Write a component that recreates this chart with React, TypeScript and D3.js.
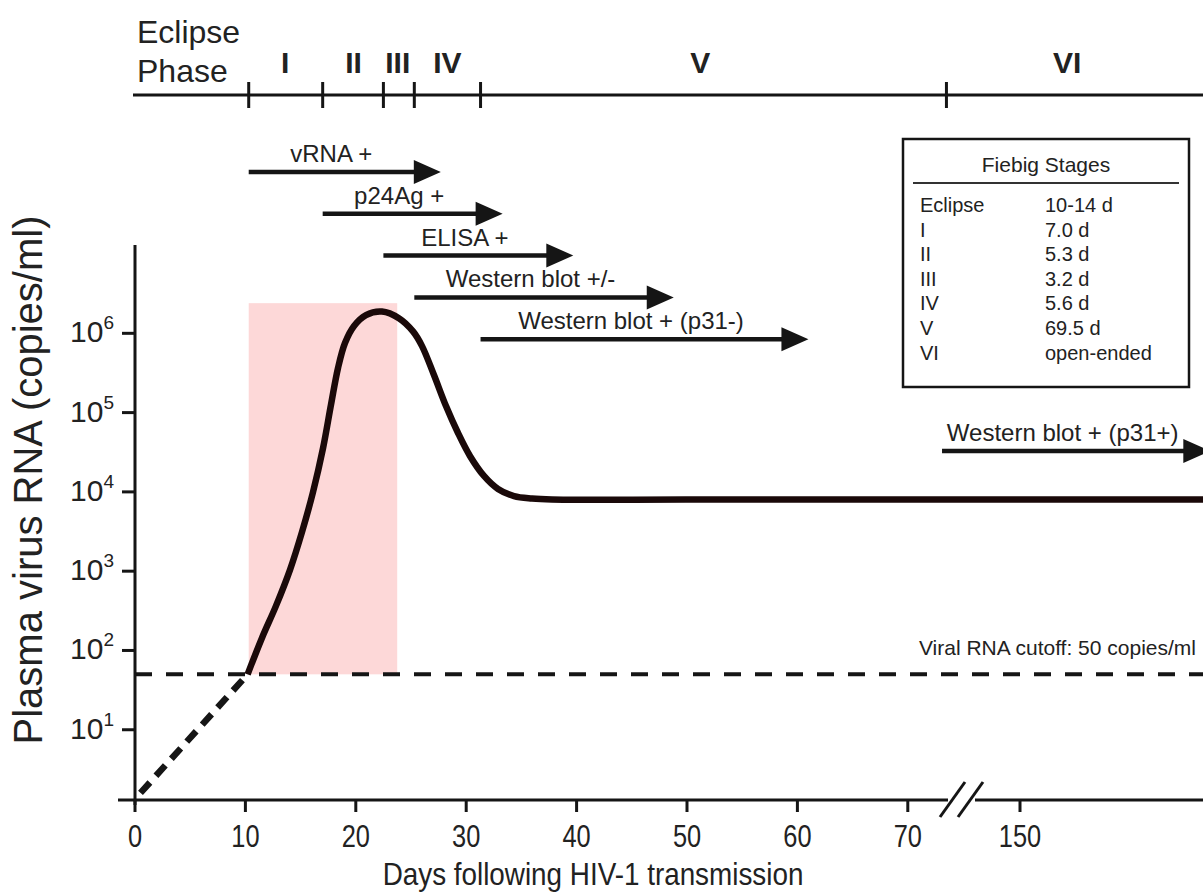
import React from "react";
import * as d3 from "d3";

// Fiebig stages (day each stage starts) and where the roman numeral sits
const stageNames = ["I", "II", "III", "IV", "V", "VI"];
const stageStartDays = [10.3, 17.0, 22.5, 25.3, 31.3, 73.5];
const stageLabelDays = [13.6, 19.8, 23.8, 28.3, 51.2, 154.3];

// diagnostic assays turning positive
const assayNames = ["vRNA +", "p24Ag +", "ELISA +", "Western blot +/-", "Western blot + (p31-)", "Western blot + (p31+)"];
const assayStartDays = [10.3, 17.0, 22.5, 25.3, 31.3, 73.1];
const assayEndDays = [27.7, 33.3, 39.7, 48.8, 61.0, 167.3];

// plasma viral load curve
const loadDays = [10.2, 11.5, 12.77, 14.04, 15.13, 16.12, 17.03, 17.75, 18.39, 19.02, 19.84, 20.92, 22.37, 23.9, 25.2, 26.0, 27.08, 28.17, 29.26, 30.34, 31.61, 32.88, 34.33, 35.96, 37.77, 50, 74, 150, 170];
const loadCopies = [50, 144, 365, 1040, 3130, 9900, 35500, 1.25e5, 3.66e5, 7.55e5, 1.24e6, 1.7e6, 1.88e6, 1.55e6, 1.05e6, 6.9e5, 2.98e5, 1.21e5, 5.53e4, 2.84e4, 1.59e4, 1.09e4, 8870, 8260, 8020, 8000, 8000, 8000, 8000];
// eclipse phase extrapolation (dashed)
const eclipseDays = [0.5, 10.2];
const eclipseCopies = [1.6, 50];

const cutoffCopies = 50;
const windowDays = [10.3, 23.75];
const windowTopCopies = 2.4e6;

const xTickDays = [0, 10, 20, 30, 40, 50, 60, 70, 150];
const yTickExps = [1, 2, 3, 4, 5, 6];

const legendStages = ["Eclipse", "I", "II", "III", "IV", "V", "VI"];
const legendDurations = ["10-14 d", "7.0 d", "5.3 d", "3.2 d", "5.6 d", "69.5 d", "open-ended"];

const FONT = "'Liberation Sans', Arial, Helvetica, sans-serif";
const INK = "#151515";

export default function App() {
  const width = 1203;
  const height = 896;
  const axisY = 800;
  const axisX = 135;

  const xEarly = d3.scaleLinear().domain([0, 75]).range([135, 963]);
  const xLate = d3.scaleLinear().domain([145, 165]).range([965, 1185]);
  const x = (d: number) => (d <= 75 ? xEarly(d) : xLate(d));
  const y = d3.scaleLog().domain([1.3, 1.3e7]).range([axisY, 245]);

  const load = loadDays.map((d, i) => [d, loadCopies[i]] as [number, number]);
  const eclipse = eclipseDays.map((d, i) => [d, eclipseCopies[i]] as [number, number]);
  const line = d3
    .line<[number, number]>()
    .x((p) => x(p[0]))
    .y((p) => y(p[1]))
    .curve(d3.curveCatmullRom.alpha(0.5));
  const straight = d3
    .line<[number, number]>()
    .x((p) => x(p[0]))
    .y((p) => y(p[1]));

  const stageAxisY = 95;
  const arrowY = (i: number) => (i < 5 ? 172 + i * 41.8 : 451);
  const headLen = 27;
  const headHalf = 12;

  const legX = 903;
  const legY = 139;

  return (
    <div style={{ position: "absolute", left: 0, top: 0 }}>
      <svg width={width} height={height} style={{ display: "block", background: "#fff" }} fontFamily={FONT}>
        {/* acute window shading */}
        <rect
          x={x(windowDays[0])}
          y={y(windowTopCopies)}
          width={x(windowDays[1]) - x(windowDays[0])}
          height={y(cutoffCopies) - y(windowTopCopies)}
          fill="#fdd8d8"
        />

        {/* stage axis on top */}
        <text x={137} y={43} fontSize={32} fill="#222">Eclipse</text>
        <text x={137} y={82} fontSize={32} fill="#222">Phase</text>
        <line x1={133} x2={width} y1={stageAxisY} y2={stageAxisY} stroke={INK} strokeWidth={3} />
        {stageStartDays.map((d, i) => (
          <line key={"st" + i} x1={x(d)} x2={x(d)} y1={stageAxisY - 13} y2={stageAxisY + 13} stroke={INK} strokeWidth={3} />
        ))}
        {stageNames.map((s, i) => (
          <text key={"sn" + i} x={x(stageLabelDays[i])} y={73} fontSize={30} fontWeight="bold" textAnchor="middle" fill="#222">
            {s}
          </text>
        ))}

        {/* assay arrows */}
        {assayNames.map((name, i) => {
          const x0 = x(assayStartDays[i]);
          const x1 = x(assayEndDays[i]);
          const yy = arrowY(i);
          return (
            <g key={"as" + i}>
              <line x1={x0} x2={x1 - headLen + 4} y1={yy} y2={yy} stroke={INK} strokeWidth={4.5} />
              <path d={`M${x1},${yy} L${x1 - headLen},${yy - headHalf} L${x1 - headLen},${yy + headHalf} Z`} fill={INK} />
              <text x={(x0 + x1 - headLen) / 2} y={yy - 10} fontSize={24} textAnchor="middle" fill="#222">
                {name}
              </text>
            </g>
          );
        })}

        {/* legend box */}
        <rect x={legX} y={legY} width={286} height={248} fill="#fff" stroke={INK} strokeWidth={2.5} />
        <text x={legX + 143} y={legY + 33} fontSize={21} textAnchor="middle" fill="#222">Fiebig Stages</text>
        <line x1={legX + 10} x2={legX + 276} y1={legY + 44} y2={legY + 44} stroke="#333" strokeWidth={2} />
        {legendStages.map((s, i) => (
          <g key={"lg" + i}>
            <text x={legX + 17} y={legY + 73 + i * 24.6} fontSize={20} fill="#222">{s}</text>
            <text x={legX + 142} y={legY + 73 + i * 24.6} fontSize={20} fill="#222">{legendDurations[i]}</text>
          </g>
        ))}

        {/* cutoff */}
        <line x1={axisX} x2={width} y1={y(cutoffCopies)} y2={y(cutoffCopies)} stroke={INK} strokeWidth={4} strokeDasharray="17 14" />
        <text x={1196} y={y(cutoffCopies) - 19} fontSize={21} textAnchor="end" fill="#222">
          Viral RNA cutoff: 50 copies/ml
        </text>

        {/* viral load */}
        <path d={straight(eclipse) || ""} fill="none" stroke={INK} strokeWidth={6.5} strokeDasharray="14 9" />
        <path d={line(load) || ""} fill="none" stroke="#1a0909" strokeWidth={6.5} strokeLinejoin="round" />

        {/* y axis */}
        <line x1={axisX} x2={axisX} y1={245} y2={axisY + 5} stroke={INK} strokeWidth={3} />
        {yTickExps.map((e) => (
          <g key={"yt" + e}>
            <line x1={axisX - 13} x2={axisX} y1={y(Math.pow(10, e))} y2={y(Math.pow(10, e))} stroke={INK} strokeWidth={3} />
            <text x={114} y={y(Math.pow(10, e)) + 9} fontSize={30} textAnchor="end" fill="#222">
              10
              <tspan fontSize={19} dy={-13}>{e}</tspan>
            </text>
          </g>
        ))}
        <text transform={`translate(42,480) rotate(-90)`} fontSize={40} textAnchor="middle" fill="#222">
          Plasma virus RNA (copies/ml)
        </text>

        {/* x axis with break */}
        <line x1={118} x2={948} y1={axisY} y2={axisY} stroke={INK} strokeWidth={3} />
        <line x1={975} x2={width} y1={axisY} y2={axisY} stroke={INK} strokeWidth={3} />
        <line x1={940} x2={965} y1={axisY + 17} y2={axisY - 18} stroke={INK} strokeWidth={3} />
        <line x1={958} x2={983} y1={axisY + 17} y2={axisY - 18} stroke={INK} strokeWidth={3} />
        {xTickDays.map((d) => (
          <g key={"xt" + d}>
            <line x1={x(d)} x2={x(d)} y1={axisY} y2={axisY + 12} stroke={INK} strokeWidth={3} />
            <text transform={`translate(${x(d)},${axisY + 47}) scale(0.82,1)`} fontSize={31} textAnchor="middle" fill="#222">
              {d}
            </text>
          </g>
        ))}
        <text transform={`translate(593,885) scale(0.87,1)`} fontSize={32} textAnchor="middle" fill="#222">
          Days following HIV-1 transmission
        </text>
      </svg>
    </div>
  );
}
